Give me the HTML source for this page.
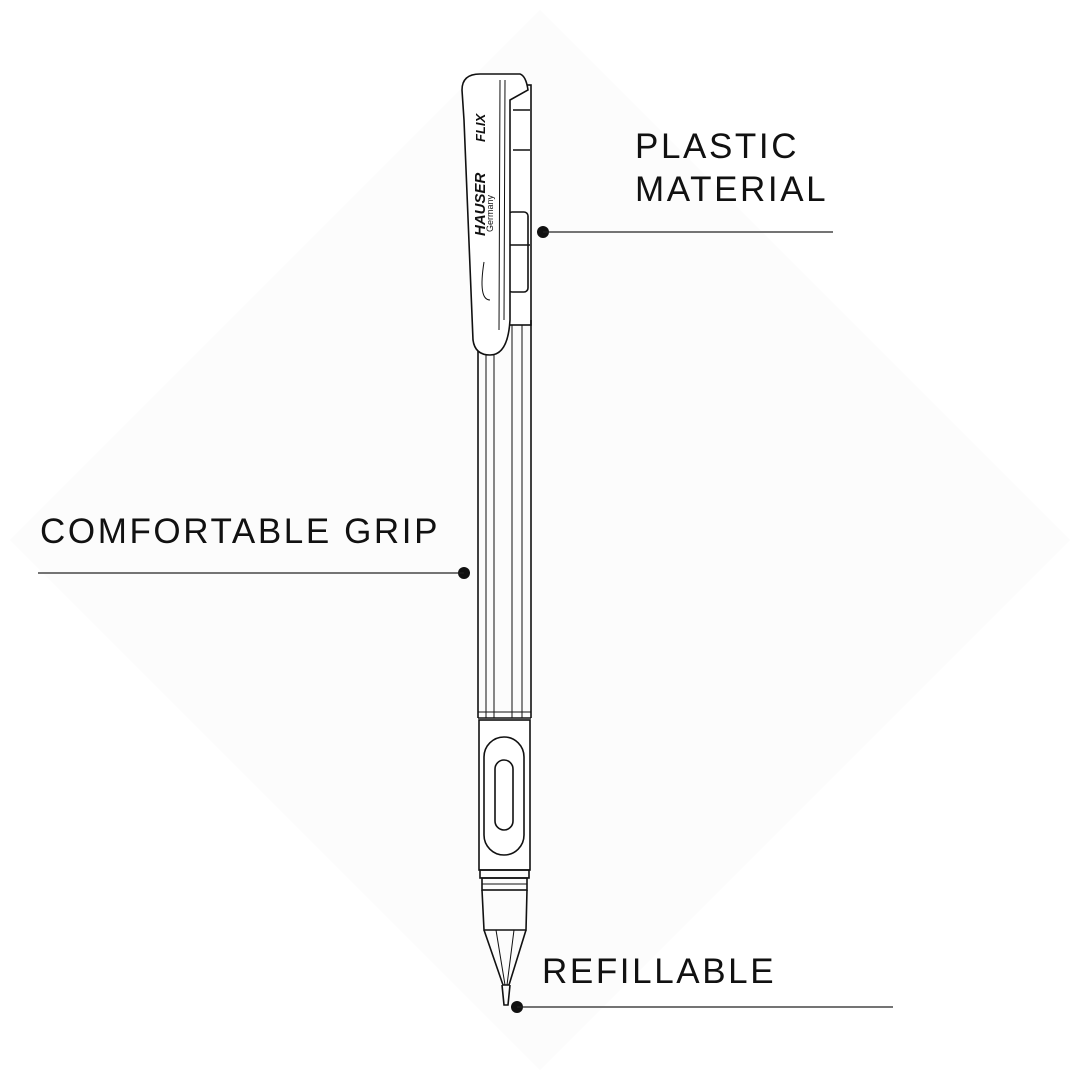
<!DOCTYPE html>
<html><head><style>
html,body{margin:0;padding:0;background:#fff;}
</style></head><body>
<svg width="1080" height="1080" viewBox="0 0 1080 1080" xmlns="http://www.w3.org/2000/svg">
<rect width="1080" height="1080" fill="#fff"/>
<polygon points="540,10 1070,540 540,1070 10,540" fill="#fcfcfc"/>
<g fill="none" stroke="#111" stroke-width="1.6">
<rect x="508" y="85" width="23" height="240" fill="#fff"/>
<line x1="513" y1="110" x2="530" y2="110"/>
<line x1="513" y1="150" x2="530" y2="150"/>
<rect x="508" y="212" width="20" height="80" rx="4"/>
<line x1="508" y1="245" x2="530" y2="245"/>
<path d="M478 340 L478 718 M531 320 L531 718"/>
<path d="M486 350 L486 718 M494 350 L494 718 M512 325 L512 718 M522 325 L522 718" stroke-width="1"/>
<line x1="478" y1="712" x2="531" y2="712" stroke-width="1"/>
<line x1="478" y1="718" x2="531" y2="718"/>
<path d="M462 90 Q462 74 480 74 L520 74 Q526 76 528 90 L510 100 L510 320 Q508 355 490 355 Q475 355 473 340 L464 120 Z" fill="#fff"/>
<path d="M500 80 L499 330 M505 80 L504 320" stroke-width="1"/>
<path d="M484 262 Q478 300 490 300" stroke-width="1"/>
<rect x="479" y="720" width="51" height="150" fill="#fff"/>
<rect x="484" y="737" width="40" height="118" rx="20"/>
<rect x="495" y="760" width="18" height="70" rx="9"/>
<rect x="480" y="870" width="49" height="8"/>
<rect x="482" y="878" width="45" height="12"/>
<line x1="482" y1="884" x2="527" y2="884" stroke-width="1"/>
<path d="M482 890 L484 930 L526 930 L527 890"/>
<path d="M484 930 L503 985 L509 985 L526 930"/>
<path d="M496 930 L505 985 M514 930 L507 985" stroke-width="1"/>
<path d="M502 985 L504 1005 L508 1005 L510 985"/>
</g>
<text transform="translate(485,236) rotate(-90)" font-family="Liberation Sans,sans-serif" font-weight="bold" font-style="italic" font-size="15" fill="#111">HAUSER</text>
<text transform="translate(493,232) rotate(-90)" font-family="Liberation Sans,sans-serif" font-size="9" fill="#111">Germany</text>
<text transform="translate(485,142) rotate(-90)" font-family="Liberation Sans,sans-serif" font-weight="bold" font-style="italic" font-size="13" fill="#111">FLIX</text>
<g fill="#111">
<circle cx="543" cy="232" r="6"/>
<circle cx="464" cy="573" r="6"/>
<circle cx="517" cy="1007" r="6"/>
</g>
<g stroke="#222" stroke-width="1.3">
<line x1="543" y1="232" x2="833" y2="232"/>
<line x1="38" y1="573" x2="464" y2="573"/>
<line x1="517" y1="1007" x2="893" y2="1007"/>
</g>
<g font-family="Liberation Sans,sans-serif" font-size="35" fill="#111" letter-spacing="2.6">
<text x="635" y="158">PLASTIC</text>
<text x="635" y="201">MATERIAL</text>
<text x="40" y="543">COMFORTABLE GRIP</text>
<text x="542" y="983">REFILLABLE</text>
</g>
</svg>
</body></html>
